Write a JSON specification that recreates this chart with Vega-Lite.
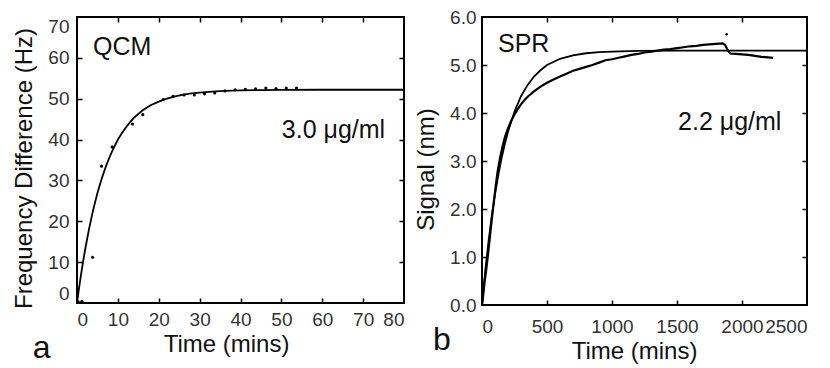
{
  "$schema": "https://vega.github.io/schema/vega-lite/v6.json",
  "background": "white",
  "padding": {"left": 11, "top": 7, "right": 0, "bottom": 0},
  "spacing": 4,
  "config": {
    "font": "Liberation Sans",
    "view": {"stroke": "black", "strokeWidth": 2},
    "axis": {
      "domain": false,
      "grid": false,
      "ticks": false,
      "tickColor": "black",
      "tickWidth": 1.5,
      "tickSize": 5,
      "labelFont": "Liberation Sans",
      "labelFontSize": 19,
      "labelColor": "#333",
      "titleFont": "Liberation Sans",
      "titleFontSize": 24,
      "titleFontWeight": "normal",
      "titleColor": "#111"
    }
  },
  "datasets": {
    "qcmFit": [
      {"t": 0, "v": 0}, {"t": 0.5, "v": 3.65}, {"t": 1, "v": 7.05}, {"t": 1.5, "v": 10.2},
      {"t": 2, "v": 13.15}, {"t": 3, "v": 18.4}, {"t": 4, "v": 22.97}, {"t": 5, "v": 26.9},
      {"t": 6, "v": 30.3}, {"t": 7, "v": 33.25}, {"t": 8, "v": 35.8}, {"t": 9, "v": 38.0},
      {"t": 10, "v": 40.0}, {"t": 11, "v": 41.6}, {"t": 12, "v": 43.0}, {"t": 13, "v": 44.27},
      {"t": 14, "v": 45.4}, {"t": 16, "v": 47.1}, {"t": 18, "v": 48.4}, {"t": 20, "v": 49.3},
      {"t": 22, "v": 50.05}, {"t": 24, "v": 50.6}, {"t": 26, "v": 51.0}, {"t": 28, "v": 51.3},
      {"t": 30, "v": 51.5}, {"t": 33, "v": 51.76}, {"t": 36, "v": 51.92}, {"t": 40, "v": 52.04},
      {"t": 45, "v": 52.1}, {"t": 50, "v": 52.16}, {"t": 60, "v": 52.2}, {"t": 70, "v": 52.2},
      {"t": 80, "v": 52.2}
    ],
    "qcmPts": [
      {"t": 0.3, "v": 0.3}, {"t": 1.2, "v": 0.4}, {"t": 3.8, "v": 11.2}, {"t": 6.0, "v": 33.5},
      {"t": 8.6, "v": 38.2}, {"t": 13.6, "v": 43.8}, {"t": 16.1, "v": 46.1}, {"t": 21.1, "v": 49.8},
      {"t": 23.5, "v": 50.6}, {"t": 26.2, "v": 50.9}, {"t": 28.7, "v": 50.9}, {"t": 31.2, "v": 51.2},
      {"t": 33.7, "v": 51.4}, {"t": 36.2, "v": 51.9}, {"t": 38.7, "v": 52.2}, {"t": 41.2, "v": 52.3},
      {"t": 43.7, "v": 52.4}, {"t": 46.2, "v": 52.6}, {"t": 48.7, "v": 52.5}, {"t": 51.2, "v": 52.6},
      {"t": 53.7, "v": 52.6}
    ],
    "qcmText": [
      {"t": 3.9, "v": 60.7, "label": "QCM"},
      {"t": 50.1, "v": 40.3, "label": "3.0 μg/ml"}
    ],
    "qcmLetter": [{"t": -10.8, "v": -13.5, "label": "a"}],
    "sprFit": [
      {"t": 0, "v": 0}, {"t": 25, "v": 0.71}, {"t": 50, "v": 1.32}, {"t": 75, "v": 1.85},
      {"t": 100, "v": 2.31}, {"t": 125, "v": 2.7}, {"t": 150, "v": 3.05}, {"t": 175, "v": 3.35},
      {"t": 200, "v": 3.61}, {"t": 250, "v": 4.03}, {"t": 300, "v": 4.35}, {"t": 350, "v": 4.58},
      {"t": 400, "v": 4.76}, {"t": 450, "v": 4.89}, {"t": 500, "v": 5.0}, {"t": 600, "v": 5.13},
      {"t": 700, "v": 5.2}, {"t": 800, "v": 5.245}, {"t": 900, "v": 5.27}, {"t": 1000, "v": 5.28},
      {"t": 1200, "v": 5.295}, {"t": 1500, "v": 5.3}, {"t": 2500, "v": 5.3}
    ],
    "sprData": [
      {"t": 0, "v": 0.0}, {"t": 10, "v": 0.22}, {"t": 20, "v": 0.48}, {"t": 30, "v": 0.68},
      {"t": 45, "v": 1.02}, {"t": 60, "v": 1.4}, {"t": 75, "v": 1.78}, {"t": 90, "v": 2.12},
      {"t": 105, "v": 2.47}, {"t": 120, "v": 2.78}, {"t": 140, "v": 3.08}, {"t": 160, "v": 3.33},
      {"t": 180, "v": 3.53}, {"t": 200, "v": 3.68}, {"t": 225, "v": 3.84}, {"t": 250, "v": 3.97},
      {"t": 275, "v": 4.08}, {"t": 300, "v": 4.18}, {"t": 330, "v": 4.28}, {"t": 360, "v": 4.36},
      {"t": 400, "v": 4.45}, {"t": 450, "v": 4.55}, {"t": 500, "v": 4.63}, {"t": 550, "v": 4.7},
      {"t": 600, "v": 4.76}, {"t": 650, "v": 4.82}, {"t": 700, "v": 4.88}, {"t": 750, "v": 4.92},
      {"t": 800, "v": 4.96}, {"t": 850, "v": 5.0}, {"t": 900, "v": 5.05}, {"t": 950, "v": 5.1},
      {"t": 1000, "v": 5.12}, {"t": 1050, "v": 5.15}, {"t": 1100, "v": 5.18}, {"t": 1150, "v": 5.21},
      {"t": 1200, "v": 5.23}, {"t": 1250, "v": 5.26}, {"t": 1300, "v": 5.28}, {"t": 1350, "v": 5.3},
      {"t": 1400, "v": 5.32}, {"t": 1450, "v": 5.33}, {"t": 1500, "v": 5.35}, {"t": 1550, "v": 5.37},
      {"t": 1600, "v": 5.39}, {"t": 1650, "v": 5.4}, {"t": 1700, "v": 5.42}, {"t": 1750, "v": 5.43},
      {"t": 1800, "v": 5.44}, {"t": 1850, "v": 5.45}, {"t": 1870, "v": 5.42}, {"t": 1890, "v": 5.31},
      {"t": 1910, "v": 5.24}, {"t": 1950, "v": 5.23}, {"t": 2000, "v": 5.22}, {"t": 2050, "v": 5.21},
      {"t": 2100, "v": 5.19}, {"t": 2150, "v": 5.17}, {"t": 2200, "v": 5.16}, {"t": 2240, "v": 5.15}
    ],
    "sprSpike": [{"t": 1882, "v": 5.64}],
    "sprText": [
      {"t": 123, "v": 5.27, "label": "SPR"},
      {"t": 1508, "v": 3.65, "label": "2.2 μg/ml"}
    ],
    "sprLetter": [{"t": -377, "v": -0.94, "label": "b"}]
  },
  "hconcat": [
    {
      "width": 327,
      "height": 286,
      "resolve": {"axis": {"x": "independent", "y": "independent"}},
      "layer": [
        {
          "data": {"name": "qcmFit"},
          "mark": {"type": "line", "color": "black", "strokeWidth": 1.8},
          "encoding": {
            "x": {"field": "t", "type": "quantitative", "scale": {"domain": [0, 80], "nice": false},
              "axis": {"orient": "bottom", "values": [0, 10, 20, 30, 40, 50, 60, 70, 80], "labelPadding": 7,
                "title": "Time (mins)", "titlePadding": 3, "titleX": 149}},
            "y": {"field": "v", "type": "quantitative", "scale": {"domain": [0, 70], "nice": false},
              "axis": {"orient": "left", "values": [0, 10, 20, 30, 40, 50, 60, 70], "labelPadding": 8, "labelFlush": true,
                "title": "Frequency Difference (Hz)", "titlePadding": 11, "titleY": 151}}
          }
        },
        {
          "data": {"name": "qcmPts"},
          "mark": {"type": "circle", "color": "black", "size": 10, "opacity": 1},
          "encoding": {
            "x": {"field": "t", "type": "quantitative",
              "axis": {"orient": "top", "offset": -286, "ticks": true, "values": [10, 20, 30, 40, 50, 60, 70], "labels": false, "title": null}},
            "y": {"field": "v", "type": "quantitative",
              "axis": {"orient": "right", "offset": -327, "ticks": true, "values": [10, 20, 30, 40, 50, 60], "labels": false, "title": null}}
          }
        },
        {
          "data": {"name": "qcmText"},
          "mark": {"type": "text", "align": "left", "baseline": "alphabetic", "fontSize": 25, "color": "#111", "font": "Liberation Sans"},
          "encoding": {
            "x": {"field": "t", "type": "quantitative",
              "axis": {"orient": "bottom", "offset": -286, "ticks": true, "values": [10, 20, 30, 40, 50, 60, 70], "labels": false, "title": null}},
            "y": {"field": "v", "type": "quantitative",
              "axis": {"orient": "left", "offset": -327, "ticks": true, "values": [10, 20, 30, 40, 50, 60], "labels": false, "title": null}},
            "text": {"field": "label"}
          }
        },
        {
          "data": {"name": "qcmLetter"},
          "mark": {"type": "text", "align": "left", "baseline": "alphabetic", "fontSize": 32, "color": "#111", "font": "Liberation Sans"},
          "encoding": {
            "x": {"field": "t", "type": "quantitative", "axis": null},
            "y": {"field": "v", "type": "quantitative", "axis": null},
            "text": {"field": "label"}
          }
        }
      ]
    },
    {
      "width": 325,
      "height": 288,
      "resolve": {"axis": {"x": "independent", "y": "independent"}},
      "layer": [
        {
          "data": {"name": "sprFit"},
          "mark": {"type": "line", "color": "black", "strokeWidth": 1.8},
          "encoding": {
            "x": {"field": "t", "type": "quantitative", "scale": {"domain": [0, 2500], "nice": false},
              "axis": {"orient": "bottom", "values": [0, 500, 1000, 1500, 2000, 2500], "format": "d", "labelPadding": 12,
                "title": "Time (mins)", "titlePadding": 3, "titleX": 152}},
            "y": {"field": "v", "type": "quantitative", "scale": {"domain": [0, 6], "nice": false},
              "axis": {"orient": "left", "values": [0, 1, 2, 3, 4, 5, 6], "format": ".1f", "labelPadding": 6,
                "title": "Signal (nm)", "titlePadding": 11, "titleY": 152}}
          }
        },
        {
          "data": {"name": "sprData"},
          "mark": {"type": "line", "color": "black", "strokeWidth": 2.2},
          "encoding": {
            "x": {"field": "t", "type": "quantitative",
              "axis": {"orient": "top", "offset": -288, "ticks": true, "values": [500, 1000, 1500, 2000], "labels": false, "title": null}},
            "y": {"field": "v", "type": "quantitative",
              "axis": {"orient": "right", "offset": -325, "ticks": true, "values": [1, 2, 3, 4, 5], "labels": false, "title": null}}
          }
        },
        {
          "data": {"name": "sprSpike"},
          "mark": {"type": "circle", "color": "black", "size": 6, "opacity": 1},
          "encoding": {
            "x": {"field": "t", "type": "quantitative", "axis": null},
            "y": {"field": "v", "type": "quantitative", "axis": null}
          }
        },
        {
          "data": {"name": "sprText"},
          "mark": {"type": "text", "align": "left", "baseline": "alphabetic", "fontSize": 25, "color": "#111", "font": "Liberation Sans"},
          "encoding": {
            "x": {"field": "t", "type": "quantitative",
              "axis": {"orient": "bottom", "offset": -288, "ticks": true, "values": [500, 1000, 1500, 2000], "labels": false, "title": null}},
            "y": {"field": "v", "type": "quantitative",
              "axis": {"orient": "left", "offset": -325, "ticks": true, "values": [1, 2, 3, 4, 5], "labels": false, "title": null}},
            "text": {"field": "label"}
          }
        },
        {
          "data": {"name": "sprLetter"},
          "mark": {"type": "text", "align": "left", "baseline": "alphabetic", "fontSize": 32, "color": "#111", "font": "Liberation Sans"},
          "encoding": {
            "x": {"field": "t", "type": "quantitative", "axis": null},
            "y": {"field": "v", "type": "quantitative", "axis": null},
            "text": {"field": "label"}
          }
        }
      ]
    }
  ]
}
